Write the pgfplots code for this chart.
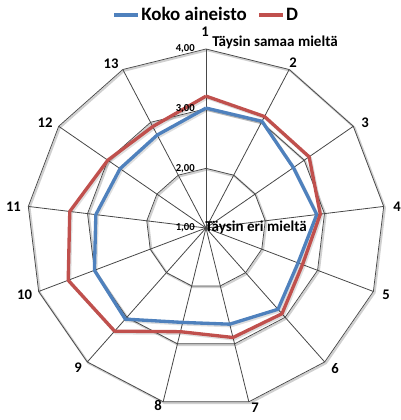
\documentclass[border=0pt]{standalone}
\usepackage{pgfplots}
\pgfplotsset{compat=1.18}
\usepackage{pgfplotstable}
\usepgfplotslibrary{polar}
\usepackage{fontspec}
\setmainfont{Carlito}

\definecolor{kokoblue}{HTML}{4F81BD}
\definecolor{dred}{HTML}{C0504D}
\definecolor{gridline}{HTML}{474747}
\definecolor{gridshadow}{HTML}{D0D0D0}

% statement number k sits at 90 - (k-1)*360/13 degrees; first row repeated to close the polygon
\pgfplotstableread{
angle  koko  d
90.00  3.01  3.21
62.31  3.02  3.11
34.62  2.78  3.10
6.92   2.87  2.93
339.23 2.65  2.73
311.54 2.82  2.92
283.85 2.66  2.89
256.15 2.63  2.79
228.46 3.04  3.31
200.77 3.00  3.47
173.08 2.86  3.30
145.38 2.75  3.00
117.69 2.76  2.92
90.00  3.01  3.21
}\profile

\begin{document}
\begin{tikzpicture}
\path[use as bounding box] (-154.5pt,-144pt) rectangle (145.5pt,171pt);
\begin{polaraxis}[
  at={(0pt,0pt)}, anchor=center,
  scale only axis, width=268.5pt, height=268.5pt,
  hide axis,
  xmin=0, xmax=360, ymin=1, ymax=4,
  y coord trafo/.code={\pgfmathparse{#1-1}},
  y coord inv trafo/.code={\pgfmathparse{#1+1}},
  clip=false,
  legend columns=2,
  legend style={at={(axis description cs:0.5,1.095)}, anchor=center,
    draw=none, fill=none, inner sep=0pt,
    font=\fontsize{14.2}{16}\selectfont\bfseries,
    nodes={inner sep=1pt},
    /tikz/every even column/.append style={column sep=7pt}},
  legend image code/.code={\draw[#1] (0pt,0pt) -- (18pt,0pt);},
]
% rings
\pgfplotsinvokeforeach{2,3,4}{
  \addplot[forget plot, gridshadow, line width=1.6pt, xshift=0.9pt, yshift=-0.9pt]
    table[x=angle, y expr=#1] {\profile};
  \addplot[forget plot, gridline, line width=0.55pt]
    table[x=angle, y expr=#1] {\profile};
}
% spokes
\pgfplotsinvokeforeach{90.00,62.31,34.62,6.92,339.23,311.54,283.85,256.15,228.46,200.77,173.08,145.38,117.69}{
  \addplot[forget plot, gridline, line width=0.6pt] coordinates {(#1,1) (#1,4)};
}
% series shadows
\addplot[forget plot, black, opacity=0.13, line width=2.4pt, xshift=1pt, yshift=-1.2pt]
  table[x=angle, y=koko] {\profile};
\addplot[forget plot, black, opacity=0.13, line width=2.4pt, xshift=1pt, yshift=-1.2pt]
  table[x=angle, y=d] {\profile};
% series
\addplot[kokoblue, line width=2.5pt, line join=round] table[x=angle, y=koko] {\profile};
\addlegendentry{Koko aineisto}
\addplot[dred, line width=2.5pt, line join=round] table[x=angle, y=d] {\profile};
\addlegendentry{D}

% radial scale labels
\tikzset{scalelbl/.style={anchor=east, inner sep=0pt, xshift=-8.2pt,
        font=\fontsize{8}{9}\selectfont\bfseries}}
\node[scalelbl] at (axis cs:90,1) {1,00};
\node[scalelbl] at (axis cs:90,2) {2,00};
\node[scalelbl] at (axis cs:90,3) {3,00};
\node[scalelbl] at (axis cs:90,4) {4,00};
\end{polaraxis}

% statement numbers
\begin{scope}[every node/.style={font=\fontsize{11}{12}\selectfont\bfseries, inner sep=0pt}]
\node at (-0.75pt,147pt) {1};
\node at (65.25pt,123.75pt) {2};
\node at (119.25pt,78.75pt) {3};
\node at (143.25pt,15.75pt) {4};
\node at (135pt,-50.25pt) {5};
\node at (96.75pt,-105.75pt) {6};
\node at (36.75pt,-135pt) {7};
\node at (-36pt,-132.75pt) {8};
\node at (-96pt,-105pt) {9};
\node at (-136.1pt,-50.25pt) {10};
\node at (-144.4pt,15.75pt) {11};
\node at (-120.75pt,78.75pt) {12};
\node at (-71.25pt,123pt) {13};
\end{scope}

% scale end descriptions
\node[anchor=west, inner sep=0pt, font=\fontsize{11.3}{12}\selectfont\bfseries]
  at (4.5pt,139.5pt) {Täysin samaa mieltä};
\node[anchor=west, inner sep=0pt, font=\fontsize{11.3}{12}\selectfont\bfseries]
  at (-0.75pt,0.2pt) {Täysin eri mieltä};
\end{tikzpicture}
\end{document}
